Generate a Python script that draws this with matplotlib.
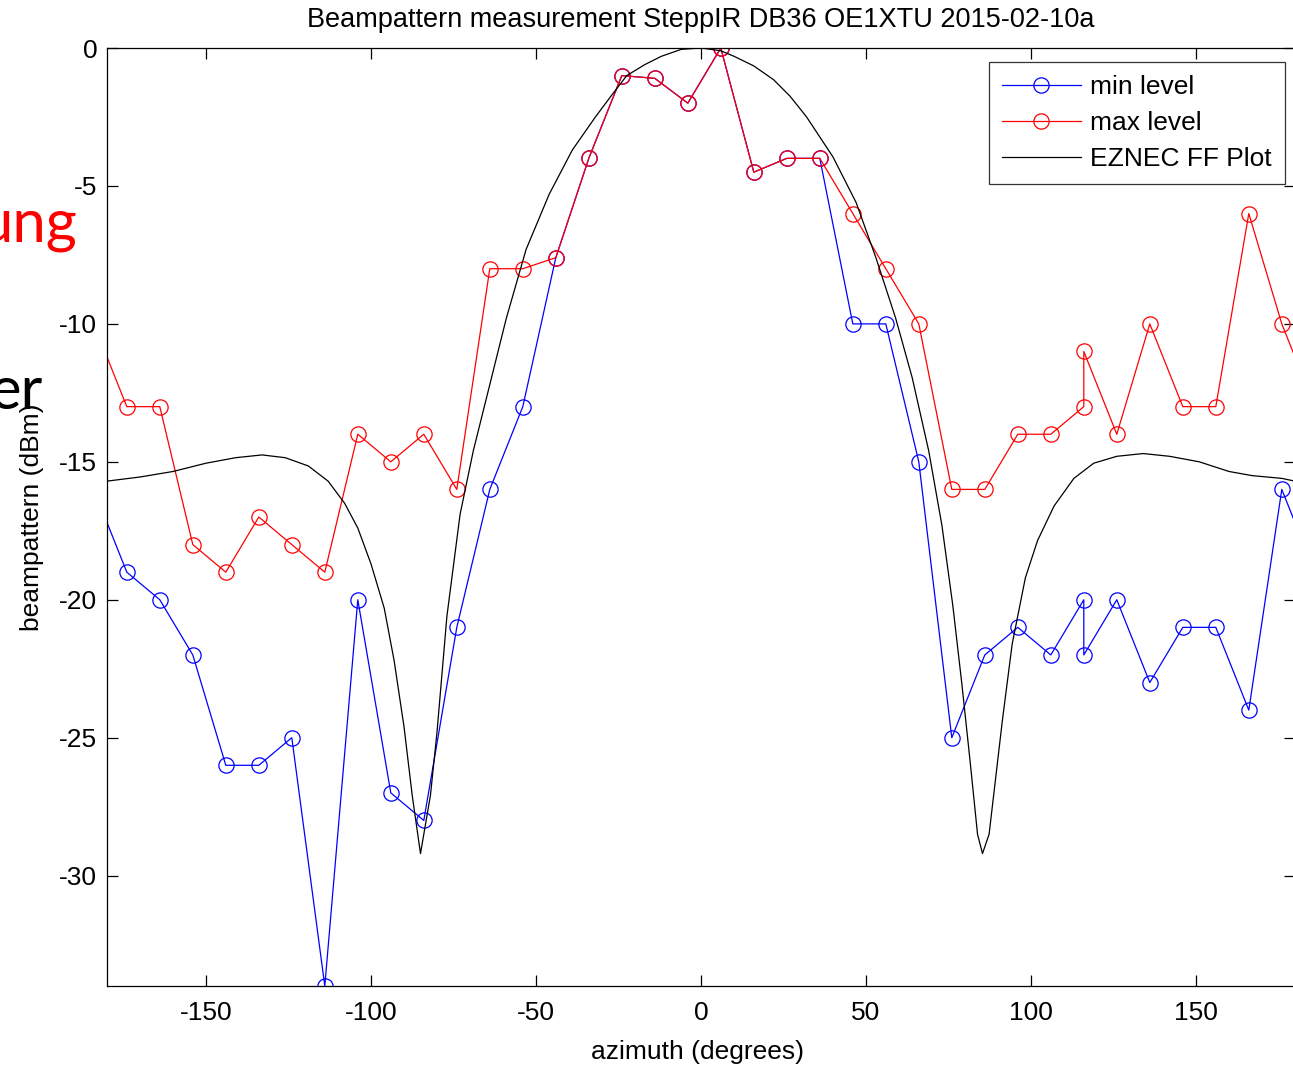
import numpy as np
import matplotlib
matplotlib.use("Agg")
import matplotlib.pyplot as plt

plt.rcParams['font.family'] = ['Liberation Sans', 'DejaVu Sans']
plt.rcParams['axes.unicode_minus'] = False

# measured azimuths (wrapped values at both ends so lines run to the axis edge)
az = [-184, -174, -164, -154, -144, -134, -124, -114, -104, -94, -84, -74,
      -64, -54, -44, -34, -24, -14, -4, 6, 16, 26, 36, 46, 56, 66, 76, 86,
      96, 106, 116, 116, 126, 136, 146, 156, 166, 176, 186]

min_level = [-16, -19, -20, -22, -26, -26, -25, -34, -20, -27, -28, -21,
             -16, -13, -7.6, -4, -1, -1.1, -2, 0, -4.5, -4, -4, -10, -10, -15, -25, -22,
             -21, -22, -20, -22, -20, -23, -21, -21, -24, -16, -19]

max_level = [-10, -13, -13, -18, -19, -17, -18, -19, -14, -15, -14, -16,
             -8, -8, -7.6, -4, -1, -1.1, -2, 0, -4.5, -4, -4, -6, -8, -10, -16, -16,
             -14, -14, -13, -11, -14, -10, -13, -13, -6, -10, -13]

# EZNEC far field plot
ez_az = [-180, -170, -160, -150, -141, -133, -126, -119, -113, -108, -104, -100,
         -96, -93, -90, -87.5, -85, -82, -80, -77, -73, -69, -64, -59, -53, -46,
         -39, -32, -27, -22.5, -17, -12, -6, 0, 6, 10, 16, 22, 27, 32, 40, 47, 53,
         59, 64, 69, 73, 76.3, 79, 81.5, 83.8, 85.3, 87.3, 91.3, 94.3, 98.3, 102,
         107, 113, 119, 126, 134, 142, 151, 160, 167, 176, 180]
ez_db = [-15.7, -15.55, -15.35, -15.05, -14.85, -14.75, -14.85, -15.15, -15.7, -16.5,
         -17.4, -18.7, -20.3, -22.2, -24.6, -27.1, -29.2, -27.1, -24.8, -20.6, -16.9,
         -14.6, -12.2, -9.8, -7.3, -5.3, -3.7, -2.5, -1.7, -1.0, -0.6, -0.3, -0.05,
         0.0, -0.1, -0.3, -0.65, -1.15, -1.75, -2.5, -3.95, -5.6, -7.6, -9.8, -11.95,
         -14.6, -17.3, -20.2, -23.0, -25.8, -28.5, -29.2, -28.5, -24.4, -21.6, -19.2,
         -17.85, -16.6, -15.6, -15.05, -14.8, -14.7, -14.8, -15.0, -15.35, -15.5,
         -15.6, -15.7]

W, H = 1293, 1066
fig = plt.figure(figsize=(W / 100, H / 100), dpi=100)
fig.patch.set_facecolor('white')

# axes box in pixels: left 107, right 1295 (just off the picture), top 48, bottom 986
ax = fig.add_axes([107 / W, 1 - 986 / H, (1295 - 107) / W, (986 - 48) / H])

ax.plot(az, min_level, color='blue', lw=0.9, marker='o', ms=11, mfc='none',
        mec='blue', mew=0.9, label='min level')
ax.plot(az, max_level, color='red', lw=0.9, marker='o', ms=11, mfc='none',
        mec='red', mew=0.9, label='max level')
ax.plot(ez_az, ez_db, color='black', lw=0.9, label='EZNEC FF Plot')

ax.set_xlim(-180, 180)
ax.set_ylim(-34, 0)
ax.set_xticks([-150, -100, -50, 0, 50, 100, 150])
ax.set_yticks([0, -5, -10, -15, -20, -25, -30])
ax.tick_params(direction='in', length=8, width=0.9, top=True, right=True,
               labelsize=19)
ax.tick_params(axis='x', pad=11)
ax.tick_params(axis='y', pad=7)
for s in ax.spines.values():
    s.set_linewidth(0.9)

ax.set_title('Beampattern measurement SteppIR DB36 OE1XTU 2015-02-10a',
             fontsize=19.5, pad=15)
ax.set_xlabel('azimuth (degrees)', fontsize=19)
ax.set_ylabel('beampattern (dBm)', fontsize=19)
ax.xaxis.set_label_coords(0.497, -0.058)
ax.yaxis.set_label_coords(-0.053, 0.5)

leg = ax.legend(loc='upper right', bbox_to_anchor=(1285 / W, 1 - 62 / H),
                bbox_transform=fig.transFigure, fontsize=19, frameon=True,
                fancybox=False, edgecolor='black', handlelength=3.0,
                handletextpad=0.35, labelspacing=0.45, borderpad=0.5,
                borderaxespad=0)
leg.get_frame().set_linewidth(0.9)

# slide text showing behind the chart
fig.text(77 / W, 1 - 242 / H, 'ung', color='red', fontsize=43, ha='right',
         va='baseline', family=['Lato', 'DejaVu Sans'])
fig.text(43 / W, 1 - 409 / H, 'er', color='black', fontsize=43, ha='right',
         va='baseline', family=['Lato', 'DejaVu Sans'])

fig.savefig('out.png', dpi=100)
